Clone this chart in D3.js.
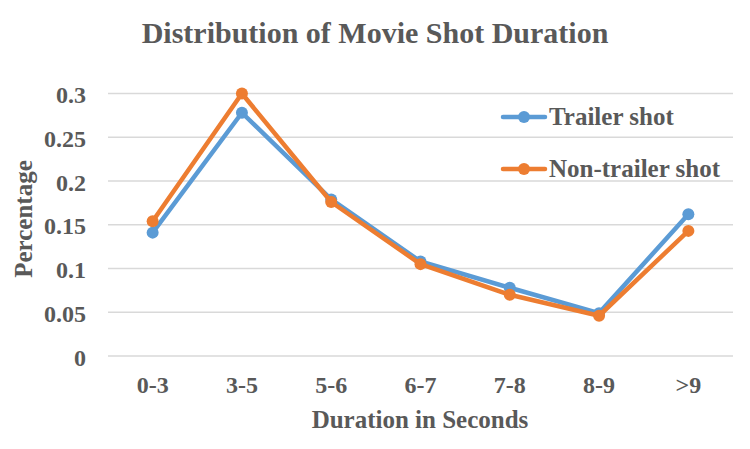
<!DOCTYPE html>
<html>
<head>
<meta charset="utf-8">
<script src="https://cdn.jsdelivr.net/npm/d3@7"></script>
<style>
  body { margin: 0; background: #fff; }
  text { font-family: "Liberation Serif", "Times New Roman", serif; font-weight: bold; fill: #595959; }
</style>
</head>
<body>
<div id="chart"></div>
<script>
// data
const categories = ["0-3", "3-5", "5-6", "6-7", "7-8", "8-9", ">9"];
const trailer = [0.141, 0.278, 0.179, 0.108, 0.078, 0.049, 0.162];
const nonTrailer = [0.154, 0.300, 0.176, 0.105, 0.070, 0.046, 0.143];
const yTicks = [0, 0.05, 0.1, 0.15, 0.2, 0.25, 0.3];
const seriesNames = ["Trailer shot", "Non-trailer shot"];

const w = 750;
const h = 449;
const x_left = 108;
const x_right = 733;
const y_top = 93.5;
const y_bottom = 356;

const svg = d3.select("#chart")
    .append("svg")
    .attr("width", w)
    .attr("height", h);

const xScale = d3.scaleBand()
    .domain(categories)
    .range([x_left, x_right]);

const yScale = d3.scaleLinear()
    .domain([0, 0.3])
    .range([y_bottom, y_top]);

// gridlines
svg.append("g")
    .selectAll("line")
    .data(yTicks)
    .enter()
    .append("line")
        .attr("x1", x_left)
        .attr("x2", x_right)
        .attr("y1", d => yScale(d))
        .attr("y2", d => yScale(d))
        .attr("stroke", "#d9d9d9")
        .attr("stroke-width", 1.5);

// y axis labels
const yAxis = d3.axisLeft(yScale)
    .tickValues(yTicks)
    .tickSize(0)
    .tickPadding(0)
    .tickFormat(d => d3.format("")(+d.toFixed(2)));

const gy = svg.append("g")
    .attr("transform", "translate(" + 86 + ",0)")
    .call(yAxis);
gy.select(".domain").remove();
gy.selectAll("text")
    .attr("font-size", 24)
    .attr("dy", "0.38em")
    .style("font-family", null);

// x axis labels
const xAxis = d3.axisBottom(xScale).tickSize(0).tickPadding(0);
const gx = svg.append("g")
    .attr("transform", "translate(0," + 393 + ")")
    .call(xAxis);
gx.select(".domain").remove();
gx.selectAll("text")
    .attr("font-size", 24)
    .attr("dy", 0)
    .style("font-family", null);

// lines
const colors = ["#5b9bd5", "#ed7d31"];
const allSeries = [trailer, nonTrailer];

const line = d3.line()
    .x((d, i) => xScale(categories[i]) + xScale.bandwidth() / 2)
    .y(d => yScale(d));

allSeries.forEach((s, k) => {
    svg.append("path")
        .datum(s)
        .attr("d", line)
        .attr("fill", "none")
        .attr("stroke", colors[k])
        .attr("stroke-width", 4.5)
        .attr("stroke-linejoin", "round");

    svg.append("g")
        .selectAll("circle")
        .data(s)
        .enter()
        .append("circle")
            .attr("cx", (d, i) => xScale(categories[i]) + xScale.bandwidth() / 2)
            .attr("cy", d => yScale(d))
            .attr("r", 6)
            .attr("fill", colors[k]);
});

// legend
const legendY = [117, 169];
seriesNames.forEach((name, k) => {
    const g = svg.append("g");
    g.append("line")
        .attr("x1", 503)
        .attr("x2", 545)
        .attr("y1", legendY[k])
        .attr("y2", legendY[k])
        .attr("stroke", colors[k])
        .attr("stroke-width", 4.5)
        .attr("stroke-linecap", "round");
    g.append("circle")
        .attr("cx", 524)
        .attr("cy", legendY[k])
        .attr("r", 6)
        .attr("fill", colors[k]);
    g.append("text")
        .attr("x", 549)
        .attr("y", legendY[k] + 8)
        .attr("font-size", 25)
        .text(name);
});

// title
svg.append("text")
    .attr("text-anchor", "middle")
    .attr("x", 375)
    .attr("y", 43)
    .attr("font-size", 30)
    .text("Distribution of Movie Shot Duration");

// x axis title
svg.append("text")
    .attr("text-anchor", "middle")
    .attr("x", 420)
    .attr("y", 428)
    .attr("font-size", 25)
    .text("Duration in Seconds");

// y axis title
svg.append("text")
    .attr("text-anchor", "middle")
    .attr("transform", "translate(32,219) rotate(-90)")
    .attr("font-size", 25)
    .text("Percentage");
</script>
</body>
</html>
